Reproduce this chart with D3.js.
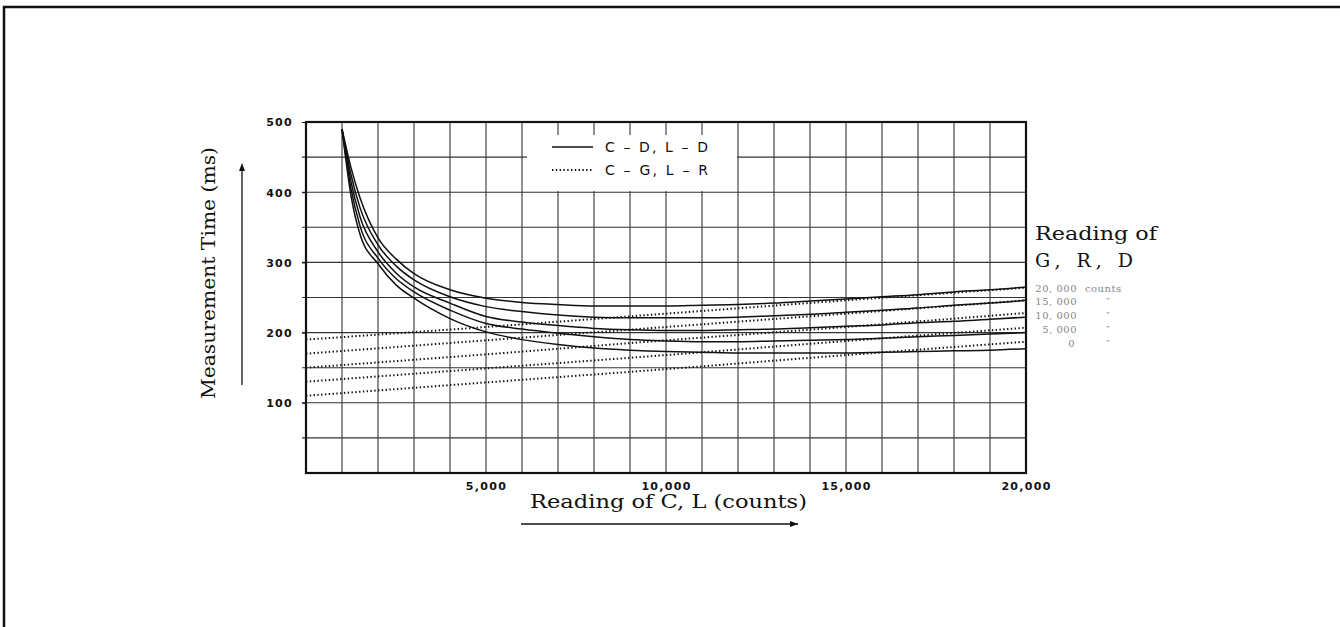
<!DOCTYPE html>
<html>
<head>
<meta charset="utf-8">
<script src="https://cdn.jsdelivr.net/npm/d3@7"></script>
<style>
  body { margin: 0; background: #fff; }
  .tick text { font-family: "DejaVu Sans", sans-serif; font-size: 11px; font-weight: bold; letter-spacing: 1.3px; fill: #111; }
  .serif { font-family: "DejaVu Serif", serif; fill: #111; }
</style>
</head>
<body>
<svg id="chart"></svg>
<script>
// readings of C, L (counts) where the solid curves were read
const solidCounts = [1000, 1250, 1500, 2000, 2500, 3000, 4000, 5000, 6000, 7000, 8000, 9000, 10000,
  11000, 12000, 13000, 14000, 15000, 16000, 17000, 18000, 19000, 20000];
// C-D, L-D  (solid), one per reading of G, R, D
const solid20000 = [490, 435, 392, 335, 305, 284, 261, 249, 243, 240, 238, 238, 238, 239, 240, 242, 245, 248, 251, 254, 258, 261, 265];
const solid15000 = [490, 425, 378, 325, 295, 275, 251, 237, 230, 225, 222, 221, 221, 221, 222, 224, 226, 229, 232, 235, 239, 242, 246];
const solid10000 = [490, 415, 365, 315, 285, 265, 242, 223, 215, 210, 206, 204, 203, 203, 204, 205, 207, 209, 211, 214, 216, 219, 222];
const solid5000 = [490, 405, 352, 306, 277, 258, 232, 213, 205, 199, 194, 190, 188, 187, 187, 188, 189, 190, 192, 194, 196, 198, 200];
const solid0 = [490, 395, 340, 298, 268, 249, 220, 201, 190, 183, 178, 175, 173, 172, 171, 171, 171, 171, 172, 173, 174, 175, 177];

// C-G, L-R (dotted)
const dottedCounts = [0, 5000, 10000, 15000, 20000];
const dotted20000 = [190, 208, 227, 246, 264];
const dotted15000 = [170, 189, 208, 227, 246];
const dotted10000 = [150, 169, 189, 208, 228];
const dotted5000 = [130, 149, 168, 188, 207];
const dotted0 = [110, 129, 148, 168, 187];

const xTicks = [5000, 10000, 15000, 20000];
const yTicks = [100, 200, 300, 400, 500];
const grdLabels = ["20, 000", "15, 000", "10, 000", "5, 000", "0"];

const width = 1340, height = 627;
const svg = d3.select("#chart").attr("width", width).attr("height", height);

// outer frame of the scanned page
svg.append("path")
  .attr("d", `M4,${height} V7 H${width}`)
  .attr("fill", "none").attr("stroke", "#111").attr("stroke-width", 2.5);

const margin = { top: 122, left: 306 };
const innerWidth = 720, innerHeight = 351;

const xScale = d3.scaleLinear().domain([0, 20000]).range([0, innerWidth]);
const yScale = d3.scaleLinear().domain([0, 500]).range([innerHeight, 0]);

const g = svg.append("g").attr("transform", `translate(${margin.left},${margin.top})`);

// grid
g.append("g").selectAll("line").data(d3.range(1000, 20000, 1000))
  .join("line")
  .attr("x1", d => xScale(d)).attr("x2", d => xScale(d))
  .attr("y1", 0).attr("y2", innerHeight)
  .attr("stroke", "#333").attr("stroke-width", 1.1);
g.append("g").selectAll("line").data(d3.range(50, 500, 50))
  .join("line")
  .attr("x1", -4).attr("x2", innerWidth)
  .attr("y1", d => yScale(d)).attr("y2", d => yScale(d))
  .attr("stroke", "#333").attr("stroke-width", 1.1);

// legend box blanks the grid
g.append("rect")
  .attr("x", 221).attr("y", 13).attr("width", 210).attr("height", 56)
  .attr("fill", "#fff");

// axes
const yAxis = d3.axisLeft(yScale).tickValues(yTicks).tickSize(4).tickPadding(9);
const yAxisG = g.append("g").call(yAxis);
yAxisG.select(".domain").remove();
yAxisG.selectAll(".tick line").attr("stroke", "#111");
yAxisG.selectAll(".tick text").attr("dy", "0.36em");

const xAxis = d3.axisBottom(xScale).tickValues(xTicks).tickSize(0).tickPadding(9).tickFormat(d3.format(","));
const xAxisG = g.append("g").attr("transform", `translate(0,${innerHeight})`).call(xAxis);
xAxisG.select(".domain").remove();

g.append("rect")
  .attr("width", innerWidth).attr("height", innerHeight)
  .attr("fill", "none").attr("stroke", "#111").attr("stroke-width", 2.2);

// curves
const solidSeries = [solid20000, solid15000, solid10000, solid5000, solid0];
const dottedSeries = [dotted20000, dotted15000, dotted10000, dotted5000, dotted0];

const solidLine = d3.line()
  .x((d, i) => xScale(solidCounts[i]))
  .y(d => yScale(d))
  .curve(d3.curveMonotoneX);
const dottedLine = d3.line()
  .x((d, i) => xScale(dottedCounts[i]))
  .y(d => yScale(d))
  .curve(d3.curveMonotoneX);

g.append("g").selectAll("path").data(solidSeries)
  .join("path")
  .attr("d", solidLine)
  .attr("fill", "none").attr("stroke", "#111").attr("stroke-width", 1.5);

g.append("g").selectAll("path").data(dottedSeries)
  .join("path")
  .attr("d", dottedLine)
  .attr("fill", "none").attr("stroke", "#111").attr("stroke-width", 2)
  .attr("stroke-dasharray", "1.4 2.4");

// legend
const legend = g.append("g").attr("transform", "translate(246,25)");
legend.append("line").attr("x1", 0).attr("x2", 41).attr("y1", 0).attr("y2", 0)
  .attr("stroke", "#111").attr("stroke-width", 1.5);
legend.append("line").attr("x1", 0).attr("x2", 41).attr("y1", 23).attr("y2", 23)
  .attr("stroke", "#111").attr("stroke-width", 2).attr("stroke-dasharray", "1.4 2.4");
legend.selectAll("text").data(["C – D,  L – D", "C – G,  L – R"])
  .join("text")
  .attr("x", 53).attr("y", (d, i) => i * 23).attr("dy", "0.36em")
  .attr("textLength", 103).attr("lengthAdjust", "spacing")
  .style("font-family", "DejaVu Sans, sans-serif").style("font-size", "14px")
  .attr("fill", "#111")
  .text(d => d);

// axis titles
svg.append("text").attr("class", "serif")
  .attr("x", 530).attr("y", 508)
  .attr("textLength", 277).attr("lengthAdjust", "spacingAndGlyphs")
  .style("font-size", "19px")
  .text("Reading of C,  L (counts)");
svg.append("line").attr("x1", 521).attr("x2", 798).attr("y1", 524).attr("y2", 524)
  .attr("stroke", "#111").attr("stroke-width", 1.3);
svg.append("path").attr("d", "M798,524 l-8,-3 v6 z").attr("fill", "#111");

svg.append("text").attr("class", "serif")
  .attr("transform", "translate(215,273) rotate(-90)")
  .attr("text-anchor", "middle")
  .attr("textLength", 252).attr("lengthAdjust", "spacingAndGlyphs")
  .style("font-size", "19px")
  .text("Measurement Time (ms)");
svg.append("line").attr("x1", 242).attr("x2", 242).attr("y1", 385).attr("y2", 167)
  .attr("stroke", "#111").attr("stroke-width", 1.3);
svg.append("path").attr("d", "M242,163 l-3,8 h6 z").attr("fill", "#111");

// right-hand labels
svg.append("text").attr("class", "serif")
  .attr("x", 1035).attr("y", 240).style("font-size", "19px")
  .attr("textLength", 122).attr("lengthAdjust", "spacingAndGlyphs")
  .text("Reading of");
svg.append("text").attr("class", "serif")
  .attr("x", 1035).attr("y", 267).style("font-size", "19px")
  .attr("textLength", 98).attr("lengthAdjust", "spacing")
  .text("G,  R,  D");
const side = svg.append("g").attr("transform", "translate(1077,288)");
side.selectAll("text.num").data(grdLabels)
  .join("text").attr("class", "num")
  .attr("x", (d, i) => i === 4 ? -2 : 0).attr("y", (d, i) => i * 13.8).attr("dy", "0.35em")
  .attr("text-anchor", "end")
  .style("font-family", "DejaVu Serif, serif").style("font-size", "10px").style("letter-spacing", "0.5px")
  .attr("fill", "#888")
  .text(d => d);
side.selectAll("text.unit").data(grdLabels)
  .join("text").attr("class", "unit")
  .attr("x", (d, i) => i === 0 ? 8 : 29).attr("y", (d, i) => i * 13.8).attr("dy", "0.35em")
  .style("font-family", "DejaVu Serif, serif").style("font-size", "10px")
  .style("font-style", (d, i) => i === 0 ? "normal" : "italic")
  .style("letter-spacing", "0.5px")
  .attr("fill", "#888")
  .text((d, i) => i === 0 ? "counts" : "″");
</script>
</body>
</html>
